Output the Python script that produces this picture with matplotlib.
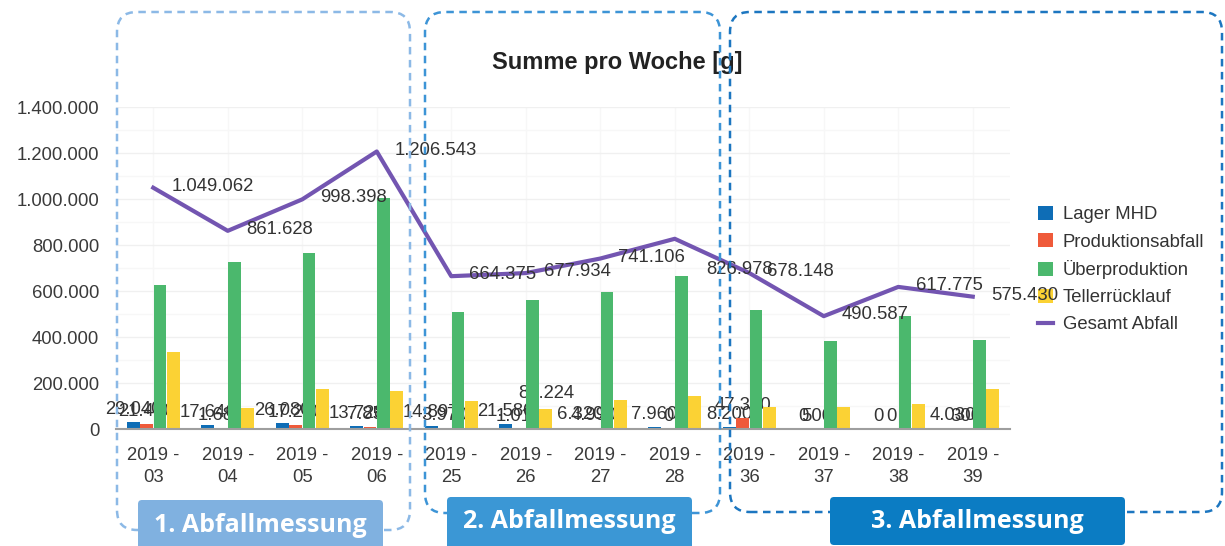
import numpy as np
import matplotlib.pyplot as plt
from matplotlib.patches import FancyBboxPatch
from matplotlib.transforms import IdentityTransform
from matplotlib.ticker import MultipleLocator, FuncFormatter

plt.rcParams['font.family'] = ['Liberation Sans', 'DejaVu Sans']

# Daten (Gramm pro Woche)
weeks = ['03', '04', '05', '06', '25', '26', '27', '28', '36', '37', '38', '39']
lager = [29040, 17646, 26080, 13728, 14897, 21580, 6320, 7960, 8200, 0, 0, 4030]
produktion = [21400, 1680, 17290, 7850, 3970, 1010, 4990, 0, 47330, 500, 0, 300]
ueber = [627000, 728000, 767000, 1005000, 508000, 563000, 596000, 665000,
         516000, 381000, 493000, 389000]
teller = [335000, 93000, 173000, 167000, 120000, 87224, 125000, 145000,
          94000, 97000, 110000, 174000]
gesamt = [1049062, 861628, 998398, 1206543, 664375, 677934, 741106, 826978,
          678148, 490587, 617775, 575430]
teller_label_idx = [5]
phases = ['1. Abfallmessung', '2. Abfallmessung', '3. Abfallmessung']


def fmt(v):
    return f'{int(v):,}'.replace(',', '.')


W, H = 1225, 546
fig = plt.figure(figsize=(W / 100, H / 100), dpi=100)
ax = fig.add_axes([116 / W, 1 - 429 / H, (1010 - 116) / W, (429 - 107) / H])

x = np.arange(len(weeks))
slot, bw = 0.18, 0.172
series = [('Lager MHD', lager, '#0e6db6'),
          ('Produktionsabfall', produktion, '#ef5a3a'),
          ('Überproduktion', ueber, '#4bb86d'),
          ('Tellerrücklauf', teller, '#fbd234')]
fs = 13.3
handles = []
for k, (name, vals, col) in enumerate(series):
    xs = x + (k - 1.5) * slot
    handles.append(ax.bar(xs, vals, bw, color=col, zorder=3, label=name))
    if k < 2:
        for xi, v in zip(xs, vals):
            ax.annotate(fmt(v), (xi, v), xytext=(0, 3), textcoords='offset points',
                        ha='center', va='bottom', fontsize=fs, color='#333', zorder=2)
    if k == 3:
        for i in teller_label_idx:
            ax.annotate(fmt(vals[i]), (xs[i], vals[i]), xytext=(0, 5),
                        textcoords='offset points', ha='center', va='bottom',
                        fontsize=fs, color='#333', zorder=2)

line, = ax.plot(x, gesamt, color='#7355b1', lw=3, zorder=5, label='Gesamt Abfall')
handles.append(line)
for i, v in enumerate(gesamt):
    off = (23, -22) if i == 7 else (13, 1)
    ax.annotate(fmt(v), (x[i], v), xytext=off, textcoords='offset points',
                ha='left', va='center', fontsize=fs, color='#333', zorder=6)

ax.set_xlim(-0.5, len(weeks) - 0.5)
ax.set_ylim(0, 1400000)
ax.set_xticks(x)
ax.set_xticklabels(['2019 -\n' + w for w in weeks])
for t in ax.get_xticklabels():
    t.set_linespacing(1.4)
ax.set_yticks(np.arange(0, 1400001, 200000))
ax.yaxis.set_minor_locator(MultipleLocator(100000))
ax.yaxis.set_major_formatter(FuncFormatter(lambda v, p: fmt(v)))
ax.set_axisbelow(True)
ax.grid(axis='y', which='major', color='#f0f0f0', lw=1)
ax.grid(axis='y', which='minor', color='#f7f7f7', lw=1)
ax.grid(axis='x', which='major', color='#f7f7f7', lw=1)
for s in ['left', 'top', 'right']:
    ax.spines[s].set_visible(False)
ax.spines['bottom'].set_color('#9e9e9e')
ax.spines['bottom'].set_linewidth(1.5)
ax.spines['bottom'].set_zorder(4)
ax.tick_params(axis='both', which='both', length=0, labelsize=fs, labelcolor='#3a3a3a')
ax.tick_params(axis='y', pad=12)
ax.tick_params(axis='x', pad=13)

leg = ax.legend(handles=handles, loc='upper left',
                bbox_to_anchor=(1038 / W, 1 - 206 / H),
                bbox_transform=fig.transFigure, frameon=False, fontsize=fs,
                handlelength=0.8, handleheight=0.8, handletextpad=0.55,
                labelspacing=0.52, borderpad=0, borderaxespad=0)
leg.set_zorder(4)
for t in leg.get_texts():
    t.set_color('#333')

fig.text(617 / W, 1 - 62 / H, 'Summe pro Woche [g]', ha='center', va='center',
         fontsize=17, fontweight='bold', color='#222')

# gestrichelte Rahmen um die Messphasen (Pixel, oben = 0)
boxes = [(117, 12, 410, 530, '#8cb9e6'),
         (425, 12, 720, 513, '#3d94d6'),
         (730, 12, 1222, 512, '#1c76c0')]
for l, t, r, b, col in boxes:
    fig.add_artist(FancyBboxPatch((l, H - b), r - l, b - t,
                                  boxstyle='round,pad=0,rounding_size=20',
                                  transform=IdentityTransform(), fill=False,
                                  edgecolor=col, lw=1.8, linestyle=(0, (3, 2.2)),
                                  zorder=10))

tags = [(138, 500, 383, 552, '#80b1e0'),
        (447, 497, 692, 552, '#3b97d5'),
        (830, 497, 1125, 545, '#0b7cc3')]
for (l, t, r, b, col), name in zip(tags, phases):
    fig.add_artist(FancyBboxPatch((l, H - b), r - l, b - t,
                                  boxstyle='round,pad=0,rounding_size=4',
                                  transform=IdentityTransform(), facecolor=col,
                                  edgecolor='none', zorder=11))
    fig.text(((l + r) / 2) / W, 1 - (t + 25) / H, name, ha='center', va='center',
             fontsize=18, fontweight='bold', color='white',
             family=['Open Sans', 'DejaVu Sans'], zorder=12)

fig.savefig('out.png', dpi=100)
